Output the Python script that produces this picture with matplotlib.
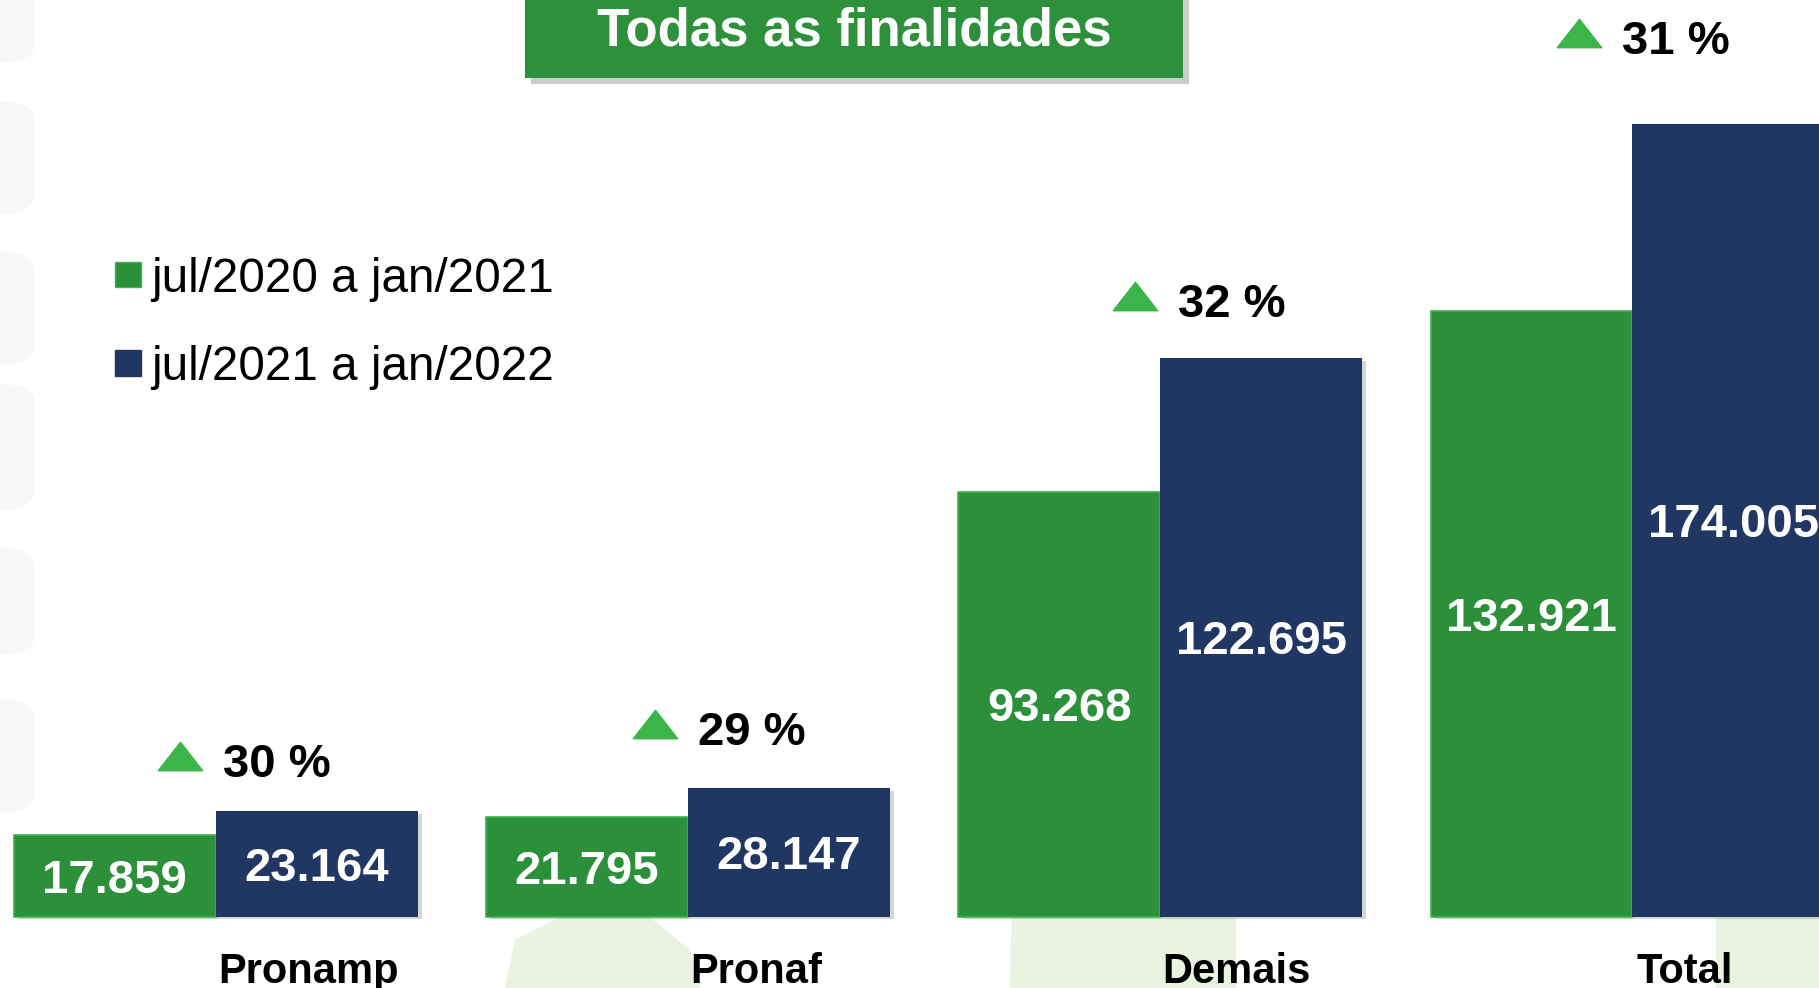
import numpy as np
import matplotlib
matplotlib.use('Agg')
from matplotlib import pyplot as plt
from matplotlib.patches import Rectangle, FancyBboxPatch, Polygon
from matplotlib.path import Path
import matplotlib.patheffects as pe

# data
categories = ['Pronamp', 'Pronaf', 'Demais', 'Total']
periodo_1 = [17.859, 21.795, 93.268, 132.921]
periodo_2 = [23.164, 28.147, 122.695, 174.005]
variacao = ['30 %', '29 %', '32 %', '31 %']
legend_labels = ['jul/2020 a jan/2021', 'jul/2021 a jan/2022']
title = 'Todas as finalidades'

GREEN = '#2c8f3a'
NAVY = '#213763'
TRI_GREEN = '#3bb54a'
FONT = 'Liberation Sans'

W, H = 1819, 988
fig = plt.figure(figsize=(W / 100, H / 100), dpi=100)
fig.patch.set_facecolor('white')

# faint watermark shapes in the background
for y0, y1 in [(-20, 63), (101, 214), (252, 365), (384, 510), (548, 655), (699, 813)]:
    fig.add_artist(FancyBboxPatch((-40 / W, 1 - y1 / H), 75 / W, (y1 - y0) / H,
                                  boxstyle='round,pad=0,rounding_size=0.02',
                                  transform=fig.transFigure, fc='#f8f8f8', ec='none', zorder=0))
for pts in [[(505, 988), (515, 940), (560, 917), (650, 917), (690, 950), (700, 988)],
            [(1010, 988), (1012, 900), (1060, 875), (1180, 872), (1236, 895), (1236, 988)],
            [(1716, 988), (1716, 917), (1819, 917), (1819, 988)]]:
    fig.add_artist(Polygon([(x / W, 1 - y / H) for x, y in pts], closed=True,
                           transform=fig.transFigure, fc='#eaf2e0', ec='none', zorder=0))

ax = fig.add_axes([0, 0, 1, 1])
ax.set_facecolor('none')
ax.set_xlim(-0.457, 3.395)
ax.set_ylim(-15.7, 201.3)
ax.axis('off')

x = np.arange(len(categories))
w = 0.4275
shadow = [pe.SimplePatchShadow(offset=(3, -2), shadow_rgbFace='#888888', alpha=0.35), pe.Normal()]

b1 = ax.bar(x - w / 2, periodo_1, width=w, color=GREEN, edgecolor='#3cb54a', linewidth=1.2, zorder=3)
b2 = ax.bar(x + w / 2, periodo_2, width=w, color=NAVY, edgecolor='none', zorder=3)
for bar in list(b1) + list(b2):
    bar.set_path_effects(shadow)

# values inside the bars
for bars, vals in [(b1, periodo_1), (b2, periodo_2)]:
    for bar, v in zip(bars, vals):
        ax.text(bar.get_x() + bar.get_width() / 2, v / 2 - 3.7, f'{v:.3f}',
                ha='center', va='baseline', color='white', fontsize=34,
                fontweight='bold', family=FONT, zorder=5)

# percent change with triangle
pct_dx = [-0.076, -0.069, -0.054, -0.113]
pct_dy = [11.2, 13.2, 12.7, 19.1]
tri = Path([(-1, -0.64), (1, -0.64), (0, 0.64), (-1, -0.64)],
           [Path.MOVETO, Path.LINETO, Path.LINETO, Path.CLOSEPOLY])
for i, (v, lab) in enumerate(zip(periodo_2, variacao)):
    yc = v + pct_dy[i]
    ax.plot(i + pct_dx[i], yc + 0.9, marker=tri, markersize=32, color=TRI_GREEN,
            linestyle='none', zorder=5)
    ax.text(i + pct_dx[i] + 0.091, yc - 3.7, lab, ha='left', va='baseline',
            fontsize=34, fontweight='bold', family=FONT, color='black', zorder=5)

# category labels
cat_dx = [0.197, 0.145, 0.162, 0.111]
for i, c in enumerate(categories):
    ax.text(i + cat_dx[i], -14.6, c, ha='center', va='baseline', fontsize=30,
            fontweight='bold', family=FONT, color='black', zorder=5)

# legend
for k, (lab, col) in enumerate(zip(legend_labels, [GREEN, NAVY])):
    top = 262 + k * 88
    fig.add_artist(Rectangle((115 / W, 1 - (top + 25.5) / H), 25.5 / W, 25.5 / H,
                             transform=fig.transFigure, fc=col,
                             ec='#3cb54a' if k == 0 else col, lw=1, zorder=6))
    fig.text(151 / W, 1 - (top + 30) / H, lab, ha='left', va='baseline',
             fontsize=34.3, family=FONT, color='black', zorder=6)

# title box
fig.add_artist(Rectangle((531 / W, 1 - 84 / H), 658 / W, 84 / H, transform=fig.transFigure,
                         fc='#9a9a9a', ec='none', alpha=0.5, zorder=6))
fig.add_artist(Rectangle((525 / W, 1 - 78 / H), 658 / W, 90 / H, transform=fig.transFigure,
                         fc='#2d903b', ec='none', zorder=7))
fig.text(854 / W, 1 - 46 / H, title, ha='center', va='baseline', fontsize=38,
         fontweight='bold', family=FONT, color='white', zorder=8)

plt.savefig('out.png', dpi=100)
